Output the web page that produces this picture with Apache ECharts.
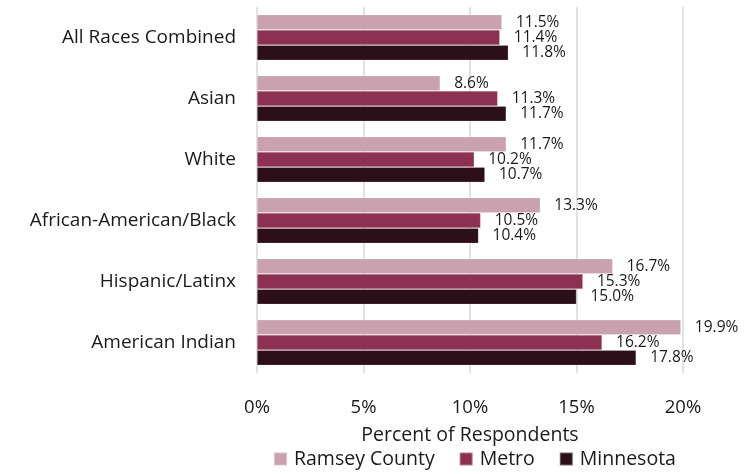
<!DOCTYPE html>
<html><head><meta charset="utf-8">
<script src="https://cdn.jsdelivr.net/npm/echarts@6/dist/echarts.min.js"></script>
<style>html,body{margin:0;padding:0;background:#fff}#c{width:750px;height:474px}</style>
</head><body><div id="c"></div>
<script>
const categories = ["All Races Combined","Asian","White","African-American/Black","Hispanic/Latinx","American Indian"];
const ramsey = [11.5, 8.6, 11.7, 13.3, 16.7, 19.9];
const metro = [11.4, 11.3, 10.2, 10.5, 15.3, 16.2];
const minnesota = [11.8, 11.7, 10.7, 10.4, 15.0, 17.8];
const xTicks = [0, 5, 10, 15, 20];
const seriesNames = ["Ramsey County","Metro","Minnesota"];
const colors = ["#C9A1AF","#8C3152","#2C0F19"];
const FONT = "Open Sans";

const chart = echarts.init(document.getElementById('c'), null, {renderer:'canvas'});
const mk = (name, data, color) => ({
  name, type:'bar', data,
  itemStyle:{color, borderColor:'rgba(255,255,255,0.35)', borderWidth:0.6},
  barGap:'0%', barCategoryGap:'25%',
  label:{show:true, position:'right', distance:14, fontFamily:FONT, fontSize:15.5, color:'#1a1a1a',
    formatter:p=>p.value.toFixed(1)+'%'}
});
chart.setOption({
  animation:false,
  textStyle:{fontFamily:FONT},
  grid:{left:257, right:67, top:7, bottom:101, containLabel:false},
  xAxis:{type:'value', min:xTicks[0], max:xTicks[xTicks.length-1], interval:5,
    axisLine:{show:false}, axisTick:{show:false},
    splitLine:{lineStyle:{color:'#d9d9d9', width:1.5}},
    axisLabel:{formatter:'{value}%', fontSize:18.5, color:'#1a1a1a', margin:25, fontFamily:FONT},
    name:'Percent of Respondents', nameLocation:'middle', nameGap:52,
    nameTextStyle:{fontSize:19.5, color:'#1a1a1a', fontFamily:FONT}},
  yAxis:{type:'category', data:categories, inverse:true,
    axisLine:{show:false}, axisTick:{show:false},
    axisLabel:{fontSize:19, color:'#1a1a1a', margin:21, fontFamily:FONT}},
  legend:{bottom:0, left:268, itemWidth:13, itemHeight:13, itemGap:24,
    icon:'rect', textStyle:{fontSize:19.5, color:'#1a1a1a', fontFamily:FONT, padding:[0,0,0,2]},
    data:seriesNames},
  series:[mk(seriesNames[0], ramsey, colors[0]), mk(seriesNames[1], metro, colors[1]), mk(seriesNames[2], minnesota, colors[2])]
});
</script></body></html>
